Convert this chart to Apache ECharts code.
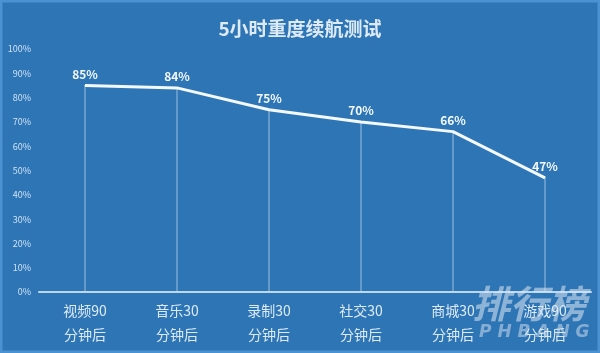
<!DOCTYPE html>
<html>
<head>
<meta charset="utf-8">
<script src="https://cdn.jsdelivr.net/npm/echarts@6/dist/echarts.min.js"></script>
<style>
  html, body { margin: 0; padding: 0; }
  #chart { width: 600px; height: 353px; }
</style>
</head>
<body>
<div id="chart"></div>
<script>
// 数据
var categories = ["视频90\n分钟后", "音乐30\n分钟后", "录制30\n分钟后", "社交30\n分钟后", "商城30\n分钟后", "游戏90\n分钟后"];
var batteryLeft = [85, 84, 75, 70, 66, 47];
var yTicks = { min: 0, max: 100, interval: 10 };

var myChart = echarts.init(document.getElementById("chart"));
var font = '"Noto Sans CJK SC", "Noto Sans", sans-serif';
var option = {
  backgroundColor: "#2e75b6",
  animation: false,
  title: {
    text: "5小时重度续航测试",
    left: "center",
    top: 14,
    textStyle: { color: "#deebf7", fontSize: 19, fontWeight: "bold", fontFamily: font },
  },
  grid: { left: 39, right: 9, top: 49, bottom: 61 },
  xAxis: {
    type: "category",
    data: categories,
    axisLine: { lineStyle: { color: "#bdd7ee", width: 2 } },
    axisTick: { show: false },
    axisLabel: {
      color: "#deebf7",
      fontSize: 14,
      lineHeight: 24,
      margin: 7,
      fontFamily: font,
    },
  },
  yAxis: {
    type: "value",
    min: yTicks.min,
    max: yTicks.max,
    interval: yTicks.interval,
    axisLine: { show: false },
    axisTick: { show: false },
    splitLine: { show: false },
    axisLabel: {
      formatter: "{value}%",
      color: "#cfe2f3",
      fontSize: 9,
      margin: 8,
      fontFamily: font,
    },
  },
  series: [
    {
      // 竖直引线
      type: "bar",
      data: batteryLeft,
      barWidth: 1,
      itemStyle: { color: "rgba(189,215,238,0.75)" },
      silent: true,
      z: 1,
    },
    {
      type: "line",
      data: batteryLeft,
      symbol: "circle",
      symbolSize: 1,
      itemStyle: { color: "#f3f9ff" },
      lineStyle: { color: "#f3f9ff", width: 3 },
      label: {
        show: true,
        position: "top",
        distance: 5,
        formatter: "{c}%",
        color: "#f3f9ff",
        fontSize: 12,
        fontWeight: "bold",
        fontFamily: font,
      },
      z: 3,
    },
  ],
  graphic: [
    {
      type: "rect",
      shape: { x: 1, y: 1, width: 598, height: 351 },
      style: { fill: "transparent", stroke: "#4b92d2", lineWidth: 3 },
      silent: true,
    },
    {
      type: "text",
      left: 472,
      top: 285,
      style: {
        text: "排行榜",
        fill: "rgba(220,230,240,0.55)",
        font: 'italic bold 38px "Noto Sans CJK SC"',
      },
      z: 10,
    },
    {
      type: "text",
      left: 479,
      top: 324,
      style: {
        text: "P H B A N G",
        fill: "rgba(220,230,240,0.5)",
        font: 'italic bold 17px "DejaVu Sans"',
      },
      z: 10,
    },
  ],
};
option && myChart.setOption(option);
</script>
</body>
</html>
